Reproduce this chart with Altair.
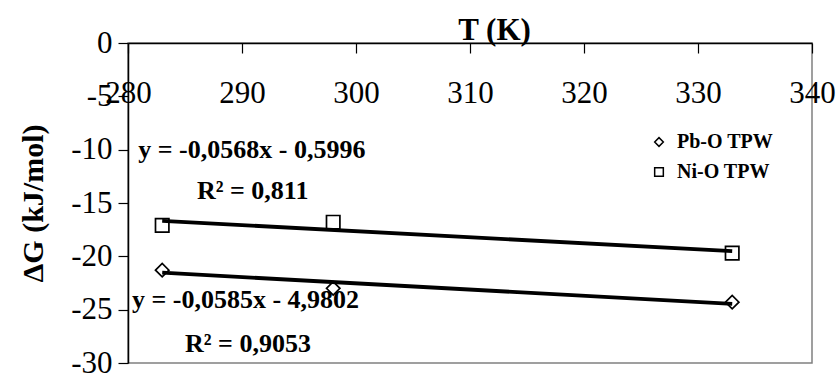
import altair as alt
import pandas as pd

# Measured free energy of adsorption at three temperatures
temps = [283, 298, 333]
series_names = ["Pb-O TPW", "Ni-O TPW"]
pb_dg = [-21.3, -23.0, -24.3]
ni_dg = [-17.1, -16.8, -19.7]

# Linear trend lines (slope, intercept) and their printed equations
slopes = [-0.0585, -0.0568]
intercepts = [-4.9802, -0.5996]
eq_texts = ["y = -0,0585x - 4,9802", "R\u00b2 = 0,9053",
            "y = -0,0568x - 0,5996", "R\u00b2 = 0,811"]
eq_t = [280.35, 285.0, 280.9, 286.05]
eq_dg = [-24.84, -28.96, -10.8, -14.63]

x_ticks = [280, 290, 300, 310, 320, 330, 340]
y_ticks = [-30, -25, -20, -15, -10, -5, 0]

FONT = "Liberation Serif"

points = pd.DataFrame({
    "T": temps * 2,
    "dG": pb_dg + ni_dg,
    "series": [series_names[0]] * 3 + [series_names[1]] * 3,
})

fit_rows = []
for name, m, b in zip(series_names, slopes, intercepts):
    for t in (temps[0], temps[-1]):
        fit_rows.append({"T": t, "dG": m * t + b, "series": name})
fits = pd.DataFrame(fit_rows)

labels = pd.DataFrame({"T": eq_t, "dG": eq_dg, "text": eq_texts})

x_scale = alt.Scale(domain=[280, 340], nice=False, zero=False)
y_scale = alt.Scale(domain=[-30, 0], nice=False, zero=False)

x_axis = alt.Axis(
    orient="bottom", offset=-320, values=x_ticks, format="d",
    grid=False, domainColor="black", domainWidth=1.5,
    tickColor="black", tickWidth=1.2, tickSize=10,
    labelFont=FONT, labelFontSize=31, labelColor="black", labelPadding=25,
    labelFlush=False, labelOverlap=False,
    title="T (K)", titleFont=FONT, titleFontSize=31, titleFontWeight="bold",
    titleColor="black", titleX=366, titleY=-4, titleAlign="center",
    titleBaseline="alphabetic", titleAnchor="start",
)
y_axis = alt.Axis(
    values=y_ticks, labelExpr="'' + datum.value",
    grid=False, domainColor="black", domainWidth=1.5,
    tickColor="black", tickWidth=1.2, tickSize=10,
    labelFont=FONT, labelFontSize=31, labelColor="black", labelPadding=6,
    labelFlush=False, labelOverlap=False,
    title="\u0394G (kJ/mol)", titleFont=FONT, titleFontSize=30,
    titleFontWeight="bold", titleColor="black",
    titleX=-86, titleY=160, titleAngle=270, titleAlign="center",
    titleBaseline="alphabetic", titleAnchor="start",
)

shape_scale = alt.Scale(domain=series_names, range=["diamond", "square"])

pts = alt.Chart(points).mark_point(
    filled=False, color="black", strokeWidth=1.7, size=180, opacity=1
).encode(
    x=alt.X("T:Q", scale=x_scale, axis=x_axis),
    y=alt.Y("dG:Q", scale=y_scale, axis=y_axis),
    shape=alt.Shape(
        "series:N", scale=shape_scale,
        legend=alt.Legend(
            title=None, orient="none", legendX=521, legendY=89,
            symbolSize=75, symbolStrokeWidth=1.5, symbolStrokeColor="black",
            symbolFillColor="transparent", labelFont=FONT, labelFontSize=20,
            labelFontWeight="bold", labelColor="black", labelOffset=8,
            rowPadding=10, padding=0,
        ),
    ),
)

lines = alt.Chart(fits).mark_line(color="black", strokeWidth=3.8).encode(
    x=alt.X("T:Q", scale=x_scale),
    y=alt.Y("dG:Q", scale=y_scale),
    detail="series:N",
)

eqs = alt.Chart(labels).mark_text(
    font=FONT, fontSize=26, fontWeight="bold", color="black",
    align="left", baseline="alphabetic",
).encode(
    x=alt.X("T:Q", scale=x_scale),
    y=alt.Y("dG:Q", scale=y_scale),
    text="text:N",
)

chart = alt.layer(pts, lines, eqs).properties(
    width=684, height=320,
    autosize=alt.AutoSizeParams(type="none"),
    padding={"left": 128, "top": 43, "right": 28, "bottom": 15},
    background="white",
).configure_view(stroke="#808080", strokeWidth=1.5)

chart.save("out.html", embed_options={"renderer": "svg", "actions": False})
